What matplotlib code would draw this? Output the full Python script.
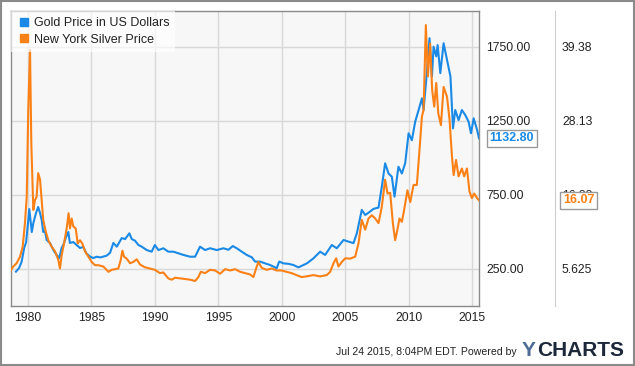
import numpy as np
import matplotlib.pyplot as plt
from matplotlib.lines import Line2D
from matplotlib.patches import Rectangle
from matplotlib.transforms import blended_transform_factory

plt.rcParams['font.family'] = ['Liberation Sans', 'DejaVu Sans']

# gold price, USD per ounce
gold_x = [1979.05, 1979.3, 1979.5, 1979.7, 1979.85, 1980.0, 1980.1, 1980.3, 1980.42, 1980.63, 1980.8,
          1980.95, 1981.08, 1981.2, 1981.34, 1981.47, 1981.73, 1982.0, 1982.26, 1982.47, 1982.65, 1982.78,
          1983.0, 1983.18, 1983.3, 1983.57, 1983.84, 1984.1, 1984.36, 1984.6, 1984.9, 1985.15, 1985.42,
          1985.7, 1986.2, 1986.47, 1986.73, 1987.0, 1987.39, 1987.65, 1987.99, 1988.18, 1988.44, 1988.7,
          1988.96, 1989.36, 1989.75, 1990.0, 1990.28, 1990.67, 1991.06, 1991.46, 1991.85, 1992.25, 1992.78,
          1993.17, 1993.56, 1993.96, 1994.35, 1994.88, 1995.4, 1995.8, 1996.14, 1996.46, 1996.85, 1997.24,
          1997.64, 1997.9, 1998.3, 1998.69, 1999.08, 1999.48, 1999.6, 1999.8, 2000.14, 2000.53, 2000.92,
          2001.32, 2001.71, 2001.98, 2002.5, 2003.03, 2003.42, 2003.95, 2004.34, 2004.87, 2005.26, 2005.66,
          2005.92, 2006.31, 2006.58, 2006.84, 2007.23, 2007.63, 2007.89, 2008.15, 2008.42, 2008.68, 2008.89,
          2009.2, 2009.47, 2009.73, 2010.0, 2010.26, 2010.52, 2010.79, 2011.05, 2011.18, 2011.39, 2011.65,
          2011.84, 2011.97, 2012.18, 2012.29, 2012.5, 2012.76, 2013.03, 2013.3, 2013.5, 2013.68, 2013.94,
          2014.2, 2014.47, 2014.73, 2014.92, 2015.13, 2015.4, 2015.55]
gold_y = [232, 257, 300, 392, 430, 560, 655, 500, 560, 628, 669,
          628, 581, 500, 505, 446, 426, 378, 345, 324, 392, 412,
          466, 500, 426, 432, 412, 392, 399, 356, 333, 324, 333,
          328, 340, 360, 426, 401, 459, 452, 491, 452, 441, 412,
          401, 378, 367, 412, 378, 390, 367, 367, 356, 345, 333,
          333, 401, 378, 390, 378, 390, 380, 405, 390, 367, 345,
          329, 300, 300, 288, 277, 261, 254, 300, 288, 285, 277,
          261, 277, 288, 322, 367, 345, 412, 390, 446, 435, 425,
          491, 649, 615, 630, 656, 665, 806, 964, 895, 873, 739,
          941, 895, 964, 1167, 1120, 1245, 1324, 1403, 1324, 1527, 1809,
          1550, 1752, 1686, 1763, 1573, 1775, 1662, 1550, 1200, 1324, 1256,
          1324, 1290, 1245, 1167, 1268, 1189, 1132.8]

# New York silver price, USD per ounce
silver_x = [1978.66, 1978.84, 1979.1, 1979.37, 1979.58, 1979.76, 1979.9, 1980.02, 1980.16, 1980.26,
            1980.42, 1980.55, 1980.68, 1980.8, 1980.95, 1981.08, 1981.2, 1981.4, 1981.6, 1981.73,
            1981.87, 1982.13, 1982.39, 1982.52, 1982.66, 1982.84, 1983.05, 1983.2, 1983.31, 1983.44,
            1983.57, 1983.76, 1983.92, 1984.1, 1984.28, 1984.5, 1984.76, 1985.02, 1985.28, 1985.55,
            1985.94, 1986.34, 1986.6, 1987.12, 1987.31, 1987.44, 1987.57, 1987.78, 1988.04, 1988.3,
            1988.57, 1988.83, 1989.2, 1989.6, 1990.0, 1990.4, 1990.67, 1991.06, 1991.33, 1991.6,
            1991.99, 1992.38, 1992.78, 1993.17, 1993.43, 1993.62, 1993.96, 1994.35, 1994.75, 1995.14,
            1995.54, 1995.93, 1996.32, 1996.72, 1997.11, 1997.5, 1997.77, 1997.98, 1998.16, 1998.42,
            1998.82, 1999.21, 1999.6, 1999.98, 2000.38, 2000.77, 2001.16, 2001.56, 2001.95, 2002.5,
            2003.03, 2003.55, 2003.82, 2004.08, 2004.29, 2004.47, 2004.74, 2005.0, 2005.4, 2005.79,
            2006.05, 2006.31, 2006.58, 2006.84, 2007.1, 2007.37, 2007.63, 2007.89, 2008.15, 2008.34,
            2008.55, 2008.76, 2008.94, 2009.12, 2009.28, 2009.47, 2009.65, 2009.91, 2010.13, 2010.39,
            2010.65, 2010.86, 2011.05, 2011.18, 2011.36, 2011.52, 2011.7, 2011.86, 2012.02, 2012.18,
            2012.34, 2012.55, 2012.76, 2013.03, 2013.23, 2013.42, 2013.55, 2013.74, 2013.94, 2014.2,
            2014.38, 2014.6, 2014.8, 2014.99, 2015.17, 2015.4, 2015.55]
silver_y = [5.5, 6.0, 6.5, 7.5, 9.0, 12.6, 16.6, 29.8, 38.9, 24.8,
            14.6, 16.1, 16.6, 20.2, 19.2, 16.1, 13.1, 11.3, 10.0, 9.5,
            9.0, 8.3, 7.0, 5.7, 7.8, 9.5, 11.8, 14.1, 11.8, 13.3,
            12.1, 11.8, 9.5, 10.0, 9.5, 8.3, 7.5, 6.7, 6.2, 6.2,
            6.0, 5.2, 5.5, 5.7, 7.0, 8.4, 7.5, 7.2, 6.5, 6.7,
            7.1, 6.3, 5.9, 5.7, 5.5, 5.0, 5.1, 4.2, 4.0, 4.3,
            4.2, 4.1, 4.0, 3.8, 4.4, 5.2, 5.0, 5.5, 5.4, 4.9,
            5.6, 5.4, 5.6, 5.2, 5.0, 4.8, 4.4, 5.7, 6.7, 5.8,
            5.5, 5.7, 5.4, 5.4, 5.2, 5.0, 4.7, 4.4, 4.5, 4.7,
            4.5, 4.7, 5.2, 6.5, 7.25, 6.0, 6.7, 7.25, 7.2, 7.5,
            9.5, 13.1, 11.6, 13.3, 13.8, 13.3, 12.6, 15.1, 19.2, 17.1,
            17.2, 12.6, 10.0, 11.6, 13.3, 12.8, 14.6, 17.6, 15.8, 18.4,
            18.4, 23.7, 28.8, 29.8, 42.7, 34.9, 39.9, 32.8, 30.3, 33.9,
            29.3, 27.5, 33.3, 31.8, 28.3, 22.7, 19.9, 22.2, 19.7, 20.9,
            19.7, 20.9, 17.4, 16.4, 17.1, 16.4, 16.07]

year_ticks = [1980, 1985, 1990, 1995, 2000, 2005, 2010, 2015]
gold_ticks = [250, 750, 1250, 1750]
silver_ticks = [5.625, 16.88, 28.13, 39.38]
silver_labels = ['5.625', '16.88', '28.13', '39.38']

blue = '#1a8ae6'
orange = '#fb8116'

fig = plt.figure(figsize=(6.35, 3.66), dpi=100)
ax = fig.add_axes([11/635, 1-306/366, 468/635, 295/366])
ax.set_facecolor('#f7f7f7')
ax.plot(gold_x, gold_y, color=blue, lw=1.5, zorder=3)
ax.set_xlim(1978.66, 2015.55)
ax.set_ylim(0, 1993)
ax.grid(True, color='#d8d8d8', lw=1)
ax.set_axisbelow(True)
for s in ax.spines.values():
    s.set_color('#8a8a8a')
    s.set_linewidth(1)

ax2 = ax.twinx()
ax2.plot(silver_x, silver_y, color=orange, lw=1.5, zorder=3)
ax2.set_ylim(0, 1993 / 44.444)
ax2.set_yticks(silver_ticks)
ax2.set_yticklabels(silver_labels)
ax2.tick_params(length=0, labelsize=8.8, colors='#222222', pad=5)
for k in ['top', 'bottom', 'left']:
    ax2.spines[k].set_visible(False)
ax2.spines['right'].set_position(('axes', 544/468))
ax2.spines['right'].set_color('#cccccc')

# gold axis labels sit just right of the plot
ax.yaxis.tick_right()
ax.set_xticks(year_ticks)
ax.set_xticklabels([str(y) for y in year_ticks])
ax.set_yticks(gold_ticks)
ax.set_yticklabels(['%.2f' % v for v in gold_ticks])
ax.tick_params(length=0, labelsize=8.8, colors='#222222')
ax.tick_params(axis='y', pad=5, left=False, labelleft=False, right=False, labelright=True)
ax.tick_params(axis='x', pad=4)

handles = [Line2D([], [], marker='s', ls='', color=blue, markersize=6),
           Line2D([], [], marker='s', ls='', color=orange, markersize=6)]
leg = ax2.legend(handles, ['Gold Price in US Dollars', 'New York Silver Price'],
                 loc='upper left', bbox_to_anchor=(0, 1), borderaxespad=0, frameon=True,
                 fancybox=False, framealpha=0.65, edgecolor='none', facecolor='white',
                 fontsize=9, handletextpad=0.3, handlelength=1.0, labelspacing=0.35,
                 borderpad=0.5)
for t in leg.get_texts():
    t.set_color('#222222')
leg.set_zorder(10)

# last value tags
def tag(axis, value, text, color, x0):
    tr = blended_transform_factory(axis.transAxes, axis.transData)
    axis.text(x0, value, text, transform=tr, ha='left', va='center', fontsize=9,
              fontweight='bold', color=color, zorder=20, clip_on=False,
              bbox=dict(boxstyle='square,pad=0.22', facecolor='white', edgecolor='#999999', lw=1))

tag(ax, gold_y[-1], '%.2f' % gold_y[-1], blue, 1.022)
tag(ax2, silver_y[-1], '%.2f' % silver_y[-1], orange, 1.18)

fig.text(336/635, 1-352/366, 'Jul 24 2015, 8:04PM EDT. Powered by', fontsize=7.6,
         color='#222222', ha='left', va='center')
fig.text(522/635, 1-350/366, 'Y', fontsize=15, fontweight='bold', color='#4d6b94',
         ha='left', va='center')
fig.text(537/635, 1-350/366, 'CHARTS', fontsize=15, fontweight='bold', color='#1c283a',
         ha='left', va='center')

fig.patches.append(Rectangle((0.001, 0.002), 0.997, 0.995, transform=fig.transFigure,
                             fill=False, edgecolor='#8a8a8a', lw=1.5))

fig.savefig('out.png', dpi=100)
